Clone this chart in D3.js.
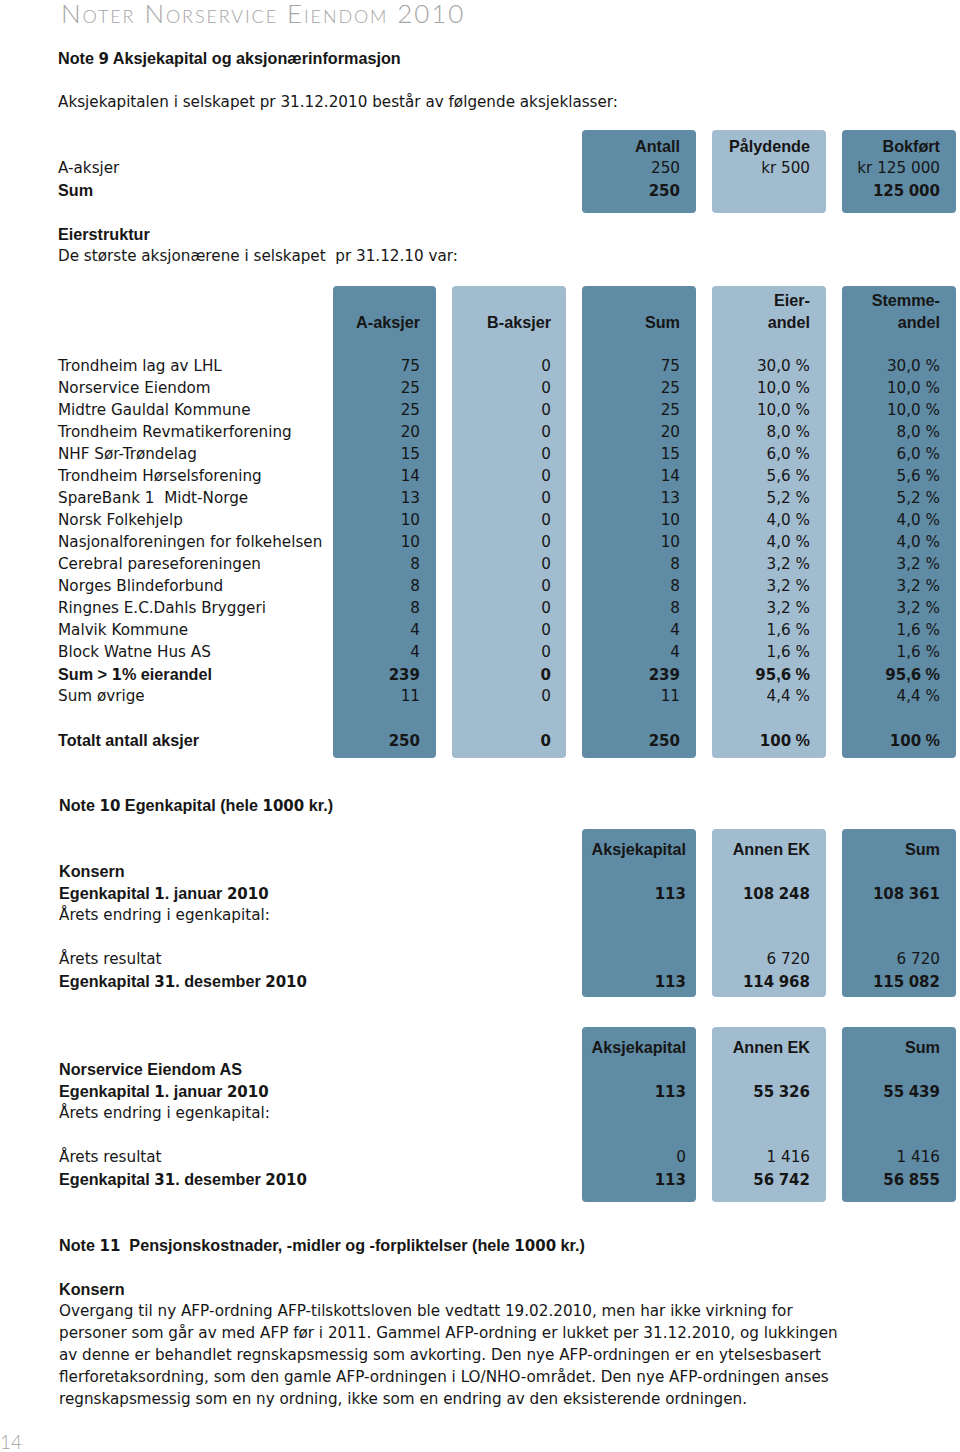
<!DOCTYPE html>
<html>
<head>
<meta charset="utf-8">
<script src="https://cdn.jsdelivr.net/npm/d3@7"></script>
<style>
  body { margin: 0; background: #fff; }
  svg text { font-family: "DejaVu Sans", sans-serif; font-size: 15.2px; fill: #161616; white-space: pre; }
  svg text.b { font-family: "Liberation Sans", Arial, sans-serif; font-weight: bold; font-size: 16.2px; }
  svg text.b tspan.num { font-family: "DejaVu Sans", sans-serif; font-size: 15px; }
  svg text.head { font-family: Lato, "Open Sans", sans-serif; font-weight: 300; font-variant: small-caps; fill: #a5a5a5; }
</style>
</head>
<body>
<svg id="page"></svg>
<script>
// ---- Note 9: aksjeklasser
var classCols = ["Antall", "Pålydende", "Bokført"];
var classRows = ["A-aksjer", "Sum"];
var antall = [250, 250];
var palydende = [500, null];
var bokfort = [125000, 125000];

// ---- Note 9: eierstruktur
var ownerCols = [["A-aksjer"], ["B-aksjer"], ["Sum"], ["Eier-", "andel"], ["Stemme-", "andel"]];
var owners = ["Trondheim lag av LHL", "Norservice Eiendom", "Midtre Gauldal Kommune",
  "Trondheim Revmatikerforening", "NHF Sør-Trøndelag", "Trondheim Hørselsforening",
  "SpareBank 1  Midt-Norge", "Norsk Folkehjelp", "Nasjonalforeningen for folkehelsen",
  "Cerebral pareseforeningen", "Norges Blindeforbund", "Ringnes E.C.Dahls Bryggeri",
  "Malvik Kommune", "Block Watne Hus AS"];
var aAksjer = [75, 25, 25, 20, 15, 14, 13, 10, 10, 8, 8, 8, 4, 4];
var bAksjer = [0, 0, 0, 0, 0, 0, 0, 0, 0, 0, 0, 0, 0, 0];
var sumAksjer = [75, 25, 25, 20, 15, 14, 13, 10, 10, 8, 8, 8, 4, 4];
var eierandel = [30.0, 10.0, 10.0, 8.0, 6.0, 5.6, 5.2, 4.0, 4.0, 3.2, 3.2, 3.2, 1.6, 1.6];
var stemmeandel = [30.0, 10.0, 10.0, 8.0, 6.0, 5.6, 5.2, 4.0, 4.0, 3.2, 3.2, 3.2, 1.6, 1.6];

var subLabels = ["Sum > 1% eierandel", "Sum øvrige", "Totalt antall aksjer"];
var subBold = [true, false, true];
var subA = [239, 11, 250];
var subB = [0, 0, 0];
var subSum = [239, 11, 250];
var subEier = [95.6, 4.4, 100];
var subStemme = [95.6, 4.4, 100];

// ---- Note 10: egenkapital
var eqCols = ["Aksjekapital", "Annen EK", "Sum"];
var eqLabels = ["Egenkapital 1. januar 2010", "Årets endring i egenkapital:", "Årets resultat", "Egenkapital 31. desember 2010"];
var eqBold = [true, false, false, true];
var konsernAksjekapital = [113, null, null, 113];
var konsernAnnenEK = [108248, null, 6720, 114968];
var konsernSum = [108361, null, 6720, 115082];
var morAksjekapital = [113, null, 0, 113];
var morAnnenEK = [55326, null, 1416, 56742];
var morSum = [55439, null, 1416, 56855];

// ---- Note 11
var note11 = [
  "Overgang til ny AFP-ordning AFP-tilskottsloven ble vedtatt 19.02.2010, men har ikke virkning for",
  "personer som går av med AFP før i 2011. Gammel AFP-ordning er lukket per 31.12.2010, og lukkingen",
  "av denne er behandlet regnskapsmessig som avkorting. Den nye AFP-ordningen er en ytelsesbasert",
  "flerforetaksordning, som den gamle AFP-ordningen i LO/NHO-området. Den nye AFP-ordningen anses",
  "regnskapsmessig som en ny ordning, ikke som en endring av den eksisterende ordningen."
];

var W = 960, H = 1452, LEFT = 58, ROW = 22;
var DARK = "#5f8ba4", LIGHT = "#a2bccf";

var nb = d3.formatLocale({ decimal: ",", thousands: " ", grouping: [3], currency: ["kr ", ""] });
var fInt = nb.format(",d"), fKr = nb.format("$,d"), f1 = nb.format(",.1f");
function fPct(v) { return (v >= 100 ? fInt(v) : f1(v)) + " %"; }

var svg = d3.select("#page").attr("width", W).attr("height", H);

// bold text: digits set in a wider face, like the original's heavy figures
function txt(x, y, s, bold, anchor) {
  var t = svg.append("text").attr("x", x).attr("y", y).attr("dy", "0.36em")
    .attr("text-anchor", anchor || "start").classed("b", !!bold);
  if (!bold) return t.text(s);
  s.split(/(\d+)/).filter(function (p) { return p.length; }).forEach(function (p) {
    t.append("tspan").classed("num", /^\d+$/.test(p)).text(p);
  });
  return t;
}

// draws the shaded columns of a table, returns the right anchor of each column
function columns(n, x0, top, bottom, firstInset, pads) {
  var xb = d3.scaleBand().domain(d3.range(n)).range([x0, 956]).paddingInner(16 / 130);
  svg.append("g").selectAll("rect").data(d3.range(n)).join("rect")
    .attr("x", function (i) { return xb(i) + (i === 0 ? firstInset : 0); })
    .attr("y", top)
    .attr("width", function (i) { return xb.bandwidth() - (i === 0 ? firstInset : 0); })
    .attr("height", bottom - top)
    .attr("rx", 4)
    .attr("fill", function (i) { return i % 2 ? LIGHT : DARK; });
  return d3.range(n).map(function (i) { return xb(i) + xb.bandwidth() - pads[i]; });
}

// page header
svg.append("text").attr("class", "head").attr("x", 61).attr("y", 23)
  .style("font-size", "26px").style("letter-spacing", "1.9px")
  .text("Noter Norservice Eiendom 2010");

// ---- Note 9
txt(LEFT, 58, "Note 9 Aksjekapital og aksjonærinformasjon", true);
txt(LEFT, 102, "Aksjekapitalen i selskapet pr 31.12.2010 består av følgende aksjeklasser:");

var y1 = d3.scaleLinear().domain([0, 1]).range([146, 146 + ROW]);
var cx1 = columns(3, 582, 130, 213, 0, [16, 16, 16]);
classCols.forEach(function (c, i) { txt(cx1[i], y1(0), c, true, "end"); });
classRows.forEach(function (r, j) {
  var bold = j === 1, y = y1(j + 1);
  txt(LEFT, y, r, bold);
  txt(cx1[0], y, fInt(antall[j]), bold, "end");
  if (palydende[j] != null) txt(cx1[1], y, fKr(palydende[j]), bold, "end");
  txt(cx1[2], y, (bold ? fInt : fKr)(bokfort[j]), bold, "end");
});

txt(LEFT, 234, "Eierstruktur", true);
txt(LEFT, 256, "De største aksjonærene i selskapet  pr 31.12.10 var:");

var y2 = d3.scaleLinear().domain([0, 1]).range([366, 366 + ROW]);
var cx2 = columns(5, 322, 286, 758, 11, [16, 15, 16, 16, 16]);
ownerCols.forEach(function (c, i) {
  c.forEach(function (line, k) { txt(cx2[i], 322 - (c.length - 1 - k) * ROW, line, true, "end"); });
});
var ownerSeries = [aAksjer, bAksjer, sumAksjer, eierandel, stemmeandel];
owners.forEach(function (name, j) {
  var y = y2(j);
  txt(LEFT, y, name, false);
  ownerSeries.forEach(function (s, i) { txt(cx2[i], y, i < 3 ? fInt(s[j]) : fPct(s[j]), false, "end"); });
});
var subSeries = [subA, subB, subSum, subEier, subStemme];
var subPos = [14, 15, 17];
subLabels.forEach(function (name, j) {
  var y = y2(subPos[j]), bold = subBold[j];
  txt(LEFT, y, name, bold);
  subSeries.forEach(function (s, i) { txt(cx2[i], y, i < 3 ? fInt(s[j]) : fPct(s[j]), bold, "end"); });
});

// ---- Note 10
txt(LEFT + 1, 805, "Note 10 Egenkapital (hele 1000 kr.)", true);

function equityTable(title, top, bottom, header, series) {
  var y = d3.scaleLinear().domain([0, 1]).range([header, header + ROW]);
  var cx = columns(3, 582, top, bottom, 0, [10, 16, 16]);
  eqCols.forEach(function (c, i) { txt(cx[i], y(0), c, true, "end"); });
  txt(LEFT + 1, y(1), title, true);
  var pos = [2, 3, 5, 6];
  eqLabels.forEach(function (lab, j) {
    var yy = y(pos[j]), bold = eqBold[j];
    txt(LEFT + 1, yy, lab, bold);
    series.forEach(function (s, i) { if (s[j] != null) txt(cx[i], yy, fInt(s[j]), bold, "end"); });
  });
}
equityTable("Konsern", 829, 997, 849, [konsernAksjekapital, konsernAnnenEK, konsernSum]);
equityTable("Norservice Eiendom AS", 1027, 1202, 1047, [morAksjekapital, morAnnenEK, morSum]);

// ---- Note 11
txt(LEFT + 1, 1245, "Note 11  Pensjonskostnader, -midler og -forpliktelser (hele 1000 kr.)", true);
txt(LEFT + 1, 1289, "Konsern", true);
note11.forEach(function (line, j) { txt(LEFT + 1, 1311 + j * ROW, line); });

// page number
svg.append("text").attr("class", "head").attr("x", 0).attr("y", 1449)
  .style("font-size", "19px").style("font-variant", "normal").text("14");
</script>
</body>
</html>
